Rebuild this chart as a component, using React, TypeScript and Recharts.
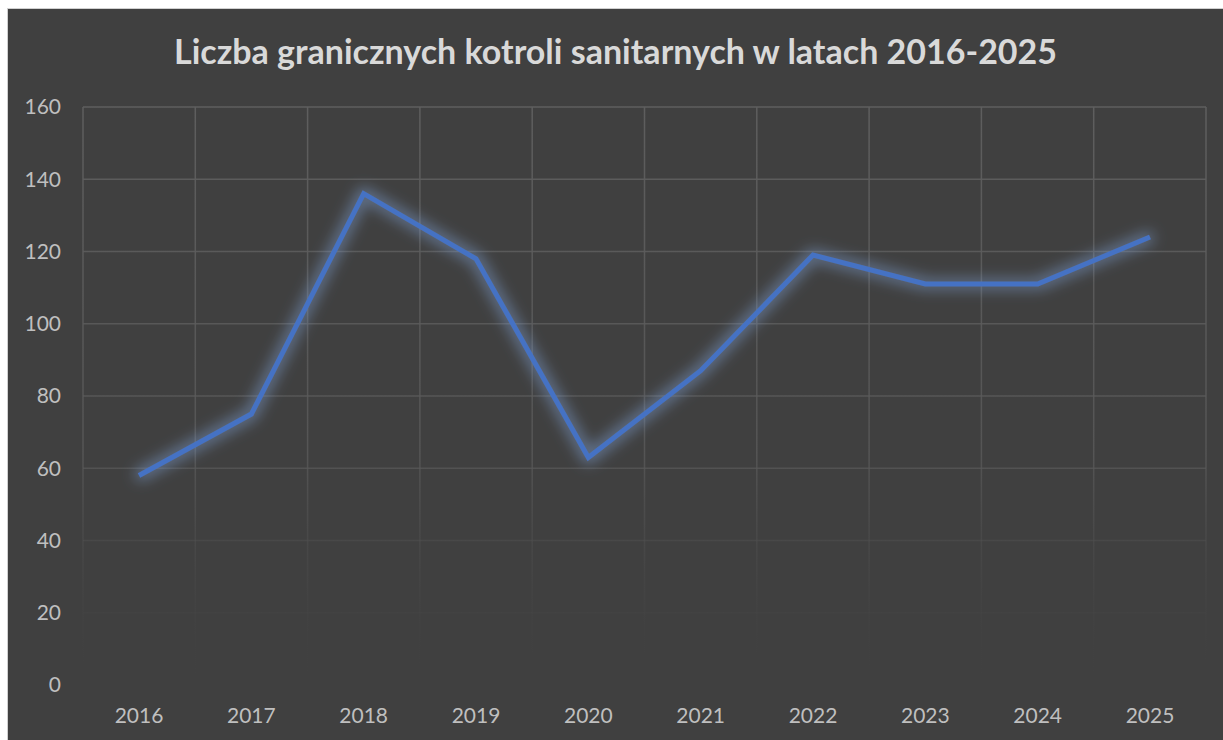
import React from 'react';
import { LineChart, Line, XAxis, YAxis, CartesianGrid } from 'recharts';

const years = ['2016', '2017', '2018', '2019', '2020', '2021', '2022', '2023', '2024', '2025'];
const kontrole = [58, 75, 136, 118, 63, 87, 119, 111, 111, 124];
const yTicks = [0, 20, 40, 60, 80, 100, 120, 140, 160];

const data = years.map((rok, i) => ({ rok, wartosc: kontrole[i] }));

const FONT = 'Lato, "Open Sans", sans-serif';

// vertical gridlines sit on category boundaries, not on the points
const bandLines = ({ offset }: any) => {
  const xs: number[] = [];
  for (let i = 0; i <= years.length; i++) xs.push(offset.left + (offset.width * i) / years.length);
  return xs;
};

export default function App() {
  return (
    <div style={{ position: 'absolute', left: 0, top: 0, width: 1223, height: 740, background: '#fff', overflow: 'hidden' }}>
      <div
        style={{
          position: 'absolute',
          left: 7,
          top: 8,
          width: 1216,
          height: 732,
          background: '#404040',
          borderLeft: '1px solid #d0d0d0',
          borderTop: '1px solid #d0d0d0',
          boxSizing: 'border-box',
        }}
      >
        <div
          style={{
            position: 'absolute',
            left: 0,
            width: 1215,
            top: 22,
            textAlign: 'center',
            fontFamily: FONT,
            fontWeight: 700,
            fontSize: 34,
            color: '#d9d9d9',
            lineHeight: '40px',
          }}
        >
          Liczba granicznych kotroli sanitarnych w latach 2016-2025
        </div>
        <LineChart
          width={1215}
          height={731}
          data={data}
          margin={{ top: 98, right: 17, left: 0, bottom: 25 }}
          style={{ position: 'absolute', left: 0, top: 0 }}
        >
          <defs>
            <linearGradient id="gridFade" gradientUnits="userSpaceOnUse" x1="0" y1="98" x2="0" y2="676">
              <stop offset="0%" stopColor="#5e5e5e" stopOpacity={1} />
              <stop offset="60%" stopColor="#5a5a5a" stopOpacity={0.8} />
              <stop offset="100%" stopColor="#404040" stopOpacity={0} />
            </linearGradient>
            <filter id="glow" x="-10%" y="-20%" width="120%" height="140%">
              <feMorphology in="SourceGraphic" operator="dilate" radius="3" result="fat" />
              <feGaussianBlur in="fat" stdDeviation="7" result="blur" />
              <feColorMatrix
                in="blur"
                type="matrix"
                values="0 0 0 0 0.2  0 0 0 0 0.33  0 0 0 0 0.6  0 0 0 0.55 0"
                result="soft"
              />
              <feMerge>
                <feMergeNode in="soft" />
                <feMergeNode in="SourceGraphic" />
              </feMerge>
            </filter>
          </defs>
          <CartesianGrid stroke="url(#gridFade)" strokeWidth={1.5} verticalCoordinatesGenerator={bandLines} />
          <XAxis
            dataKey="rok"
            axisLine={false}
            tickLine={false}
            tickSize={0}
            tickMargin={23}
            height={30}
            padding={{ left: 56, right: 56 }}
            tick={{ fill: '#bfbfbf', fontSize: 21, fontFamily: FONT }}
          />
          <YAxis
            domain={[0, 160]}
            ticks={yTicks}
            axisLine={false}
            tickLine={false}
            tickSize={0}
            tickMargin={22}
            width={75}
            tick={{ fill: '#bfbfbf', fontSize: 21, fontFamily: FONT }}
          />
          <Line
            type="linear"
            dataKey="wartosc"
            stroke="#4472c4"
            strokeWidth={5}
            dot={false}
            activeDot={false}
            filter="url(#glow)"
            isAnimationActive={false}
          />
        </LineChart>
      </div>
    </div>
  );
}
